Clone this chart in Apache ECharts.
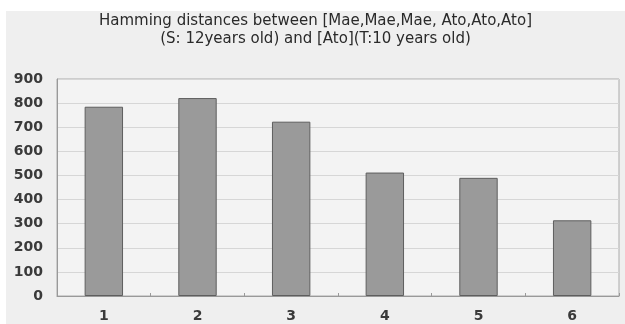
<!DOCTYPE html>
<html><head><meta charset="utf-8">
<script src="https://cdn.jsdelivr.net/npm/echarts@6/dist/echarts.min.js"></script>
<style>
html,body{margin:0;padding:0;background:#ffffff;}
#c{position:absolute;left:6px;top:11px;width:619px;height:313px;}
</style></head>
<body><div id="c"></div>
<script>
const titleLines = ["Hamming distances between [Mae,Mae,Mae, Ato,Ato,Ato]", "(S: 12years old) and [Ato](T:10 years old)"];
const categories = ["1", "2", "3", "4", "5", "6"];
const values = [785, 821, 723, 512, 490, 314];
const yMin = 0, yMax = 900, yStep = 100;

const chart = echarts.init(document.getElementById('c'));
chart.setOption({
  backgroundColor: '#efefef',
  animation: false,
  title: {
    text: titleLines.join('\n'),
    left: 'center', top: 1, padding: 0,
    textStyle: {fontFamily: 'DejaVu Sans', fontSize: 15, fontWeight: 'normal', color: '#2a2a2a', lineHeight: 18}
  },
  grid: {left: 51, right: 6, top: 68, bottom: 28, show: true, backgroundColor: '#f3f3f3', borderColor: '#aaaaaa', borderWidth: 1},
  xAxis: {
    type: 'category', data: categories,
    axisLine: {lineStyle: {color: '#999999'}},
    axisTick: {show: true, inside: true, length: 3, lineStyle: {color: '#999999'}},
    axisLabel: {fontFamily: 'DejaVu Sans', fontWeight: 'bold', fontSize: 14, color: '#3a3a3a', margin: 13}
  },
  yAxis: {
    type: 'value', min: yMin, max: yMax, interval: yStep,
    axisLine: {show: true, lineStyle: {color: '#999999'}},
    axisTick: {show: false},
    splitLine: {lineStyle: {color: '#d6d6d6', width: 1}},
    axisLabel: {fontFamily: 'DejaVu Sans', fontWeight: 'bold', fontSize: 14, color: '#3a3a3a', margin: 14}
  },
  series: [{
    type: 'bar', data: values, barWidth: '41%',
    itemStyle: {color: '#9a9a9a', borderColor: '#5e5e5e', borderWidth: 1}
  }]
});
</script></body></html>
